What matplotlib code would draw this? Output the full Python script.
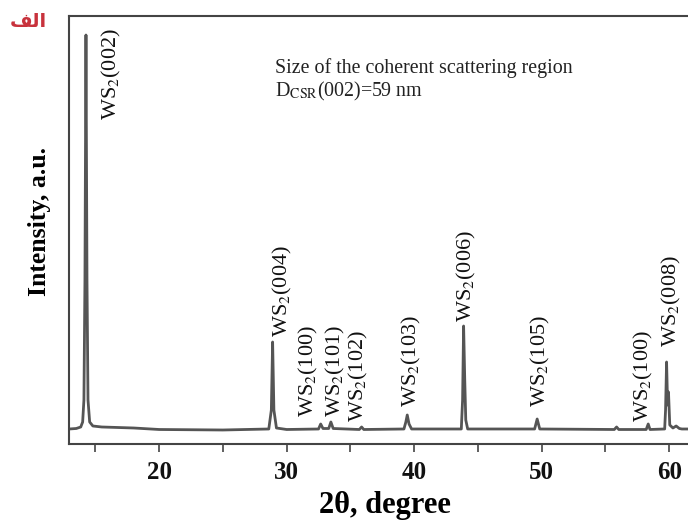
import matplotlib
matplotlib.use('Agg')
import matplotlib.pyplot as plt
from matplotlib.ticker import MultipleLocator

plt.rcParams['font.family'] = ['Liberation Serif', 'DejaVu Serif']
plt.rcParams['mathtext.fontset'] = 'stix'

# XRD profile (2theta in degrees, intensity in a.u.)
two_theta = [12.95, 13.5, 13.85, 14.0, 14.1, 14.18, 14.26, 14.34, 14.42, 14.55, 14.8,
             15.5, 18.0, 20.0, 25.0, 28.6, 28.8, 28.9, 29.0, 29.2, 30.0, 32.5, 32.67,
             32.85, 33.3, 33.47, 33.65, 35.7, 35.88, 36.05, 39.2, 39.35, 39.46, 39.6,
             39.8, 43.7, 43.8, 43.88, 43.97, 44.05, 44.2, 49.45, 49.65, 49.85, 55.7,
             55.88, 56.05, 58.2, 58.36, 58.5, 59.65, 59.72, 59.8, 59.88, 59.95, 60.05,
             60.3, 60.55, 60.8, 61.0, 62.5]
intensity = [1, 1.5, 3, 8, 30, 150, 395, 150, 30, 8, 4,
             3, 2, 0.5, 0, 1, 20, 88, 20, 2, 0.5, 1, 6,
             1.5, 1.5, 8, 1.5, 0.5, 3, 0.5, 1, 8, 15, 6,
             1, 1, 30, 104, 50, 10, 1, 1, 11, 1, 0.5,
             3, 0.5, 0.5, 6, 0.5, 1, 20, 68, 25, 38, 5,
             2, 4, 1.5, 1, 1]

# peak labels: text, x position, bottom of text
peak_labels = ['(002)', '(004)', '(100)', '(101)', '(102)', '(103)',
               '(006)', '(105)', '(100)', '(008)']
label_x = [16.3, 29.7, 31.7, 33.8, 35.6, 39.8, 44.1, 49.9, 58.0, 60.2]
label_y = [310, 93, 13, 13, 8, 23, 108, 23, 8, 83]

fig = plt.figure(figsize=(6.88, 5.25), dpi=100)
ax = fig.add_axes([0.1003, 0.1543, 0.9186, 0.8152])

ax.plot(two_theta, intensity, color='#555555', lw=2.0)

for lab, x, y in zip(peak_labels, label_x, label_y):
    ax.text(x, y, 'WS$_2$' + lab, rotation=90, ha='center', va='bottom',
            fontsize=16, color='#111111')

ax.text(29.08, 357, 'Size of the coherent scattering region', fontsize=14.4,
        va='baseline', color='#222222')
ax.text(29.08, 334, 'D$_{\\mathrm{CSR}}$(002)=59 nm', fontsize=14.4,
        va='baseline', color='#222222')

ax.set_xlim(12.93, 62.5)
ax.set_ylim(-14, 414)
ax.xaxis.set_major_locator(MultipleLocator(10))
ax.xaxis.set_minor_locator(MultipleLocator(5))
ax.tick_params(axis='x', which='both', direction='out', length=6, width=1.2,
               colors='#444444', labelcolor='#111111', labelsize=18, pad=6)
ax.set_yticks([])
for lbl in ax.get_xticklabels():
    lbl.set_fontweight('bold')
for s in ax.spines.values():
    s.set_color('#444444')
    s.set_linewidth(1.5)

ax.set_xlabel('2θ, degree', fontsize=22, fontweight='bold', labelpad=5)
ax.set_ylabel('Intensity, a.u.', fontsize=18.5, fontweight='bold')
ax.yaxis.set_label_coords(-0.029, 0.52)

fig.text(0.014, 0.977, '\uFED2\uFEDF\u0627', color='#c8323c', fontsize=14,
         family='DejaVu Sans', fontweight='bold', va='top', ha='left')

fig.savefig('out.png', dpi=100)
